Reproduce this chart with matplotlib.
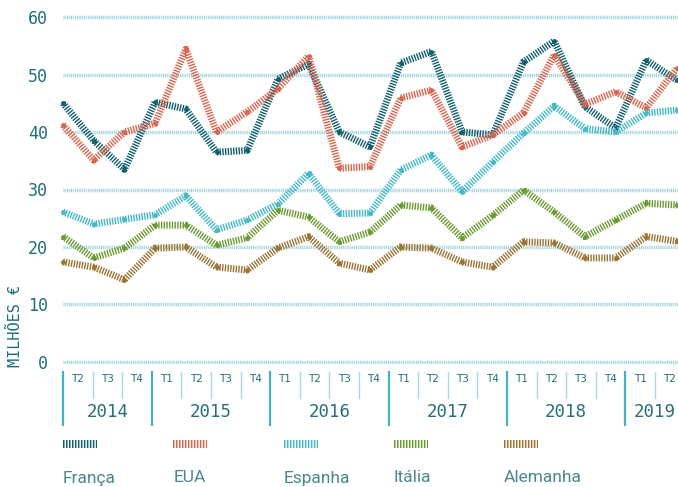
import numpy as np
import matplotlib
matplotlib.use('Agg')
import matplotlib.pyplot as plt

plt.rcParams['lines.scale_dashes'] = False

# quarterly values, 2014 T2 .. 2019 T2 (milhões €)
franca = [45.0, 38.5, 33.5, 45.2, 44.0, 36.5, 36.8, 49.2, 51.8, 40.0, 37.4,
          52.0, 54.0, 40.0, 39.5, 52.2, 55.8, 44.4, 40.7, 52.5, 49.0]
eua = [41.2, 35.1, 40.0, 41.5, 54.4, 40.0, 43.5, 47.5, 53.2, 33.7, 34.0,
       45.9, 47.3, 37.4, 39.5, 43.3, 53.4, 44.8, 47.0, 44.2, 51.1]
espanha = [26.1, 24.0, 24.8, 25.6, 28.9, 23.0, 24.7, 27.5, 32.8, 25.8, 25.9,
           33.4, 36.0, 29.6, 34.8, 39.8, 44.5, 40.6, 40.0, 43.3, 43.8]
italia = [21.8, 18.1, 19.8, 23.8, 23.8, 20.3, 21.6, 26.4, 25.2, 20.9, 22.6,
          27.3, 26.8, 21.6, 25.5, 29.9, 26.1, 21.8, 24.7, 27.6, 27.3]
alemanha = [17.4, 16.5, 14.3, 19.8, 20.0, 16.5, 16.0, 19.8, 21.8, 17.2, 16.0,
            20.0, 19.8, 17.4, 16.5, 20.9, 20.7, 18.1, 18.1, 21.8, 21.0]

series = [franca, eua, espanha, italia, alemanha]
names = ['França', 'EUA', 'Espanha', 'Itália', 'Alemanha']
colors = ['#125f6e', '#d9654f', '#45b9c7', '#6c9a32', '#9b7434']

quarters = ['T2', 'T3', 'T4'] + ['T1', 'T2', 'T3', 'T4'] * 4 + ['T1', 'T2']
years = ['2014', '2015', '2016', '2017', '2018', '2019']
year_start = [0, 3, 7, 11, 15, 19]
yticks = [0, 10, 20, 30, 40, 50, 60]

W, H = 678, 487
fig = plt.figure(figsize=(W / 100, H / 100), dpi=100)

def px_axes(x0, y0, x1, y1):
    return fig.add_axes([x0 / W, 1 - y1 / H, (x1 - x0) / W, (y1 - y0) / H])

teal_txt = '#1f6f7c'
stripes = (0, (1.0, 0.95))

# main chart
ax = px_axes(63, 15, 678, 364)
ax.set_ylim(-0.35, 60.35)
ax.set_xlim(0, 20 * 615 / 614)
for s in ax.spines.values():
    s.set_visible(False)
ax.set_xticks([])
ax.set_yticks(yticks)
ax.set_yticklabels([str(v) for v in yticks], family='DejaVu Sans Mono',
                   fontsize=12, color=teal_txt)
ax.tick_params(axis='y', length=0, pad=11)
ax.grid(axis='y', color='#9fd3dc', linewidth=2.5, linestyle=(0, (0.75, 0.6)))
ax.set_axisbelow(True)

x = np.arange(len(franca))
for vals, c in zip(series, colors):
    ax.plot(x, vals, color=c, linewidth=5.0, linestyle=stripes,
            solid_joinstyle='miter', clip_on=False)
    ax.plot(x, vals, 'o', color=c, markersize=2.5, clip_on=False)

fig.text(15 / W, 1 - 326 / H, 'MILHÕES €', rotation=90, ha='center', va='center',
         family='DejaVu Sans Mono', fontsize=11, color=teal_txt)

# category strip
cell = 29.6
ax2 = px_axes(63, 370, 678, 426)
ax2.set_xlim(0, 615 / cell)
ax2.set_ylim(56, 0)
ax2.axis('off')
for i, q in enumerate(quarters):
    ax2.text(i + 0.5, 9, q, ha='center', va='center', fontsize=7.5,
             color=teal_txt)
    if i not in year_start:
        ax2.plot([i, i], [2, 28], color='#a6dbe2', linewidth=1.0, clip_on=False)
ends = year_start[1:] + [len(quarters)]
for yr, s0, e0 in zip(years, year_start, ends):
    ax2.plot([s0, s0], [2, 55], color='#45b0bf', linewidth=1.6, clip_on=False)
    ax2.text((s0 + e0) / 2, 42, yr, ha='center', va='center',
             family='DejaVu Sans Mono', fontsize=12.5, color='#2a6f78')

# legend
ax3 = px_axes(0, 0, W, H)
ax3.set_xlim(0, W)
ax3.set_ylim(H, 0)
ax3.axis('off')
ax3.patch.set_alpha(0)
for k, (nm, c) in enumerate(zip(names, colors)):
    lx = 63 + k * 110.3
    ax3.plot([lx, lx + 34], [444, 444], color=c, linewidth=5.8,
             linestyle=(0, (1.1, 1.05)))
    ax3.text(lx, 478, nm, ha='left', va='center', fontsize=12.5,
             family='Roboto', color='#4a8890')

fig.savefig('out.png', dpi=100)
